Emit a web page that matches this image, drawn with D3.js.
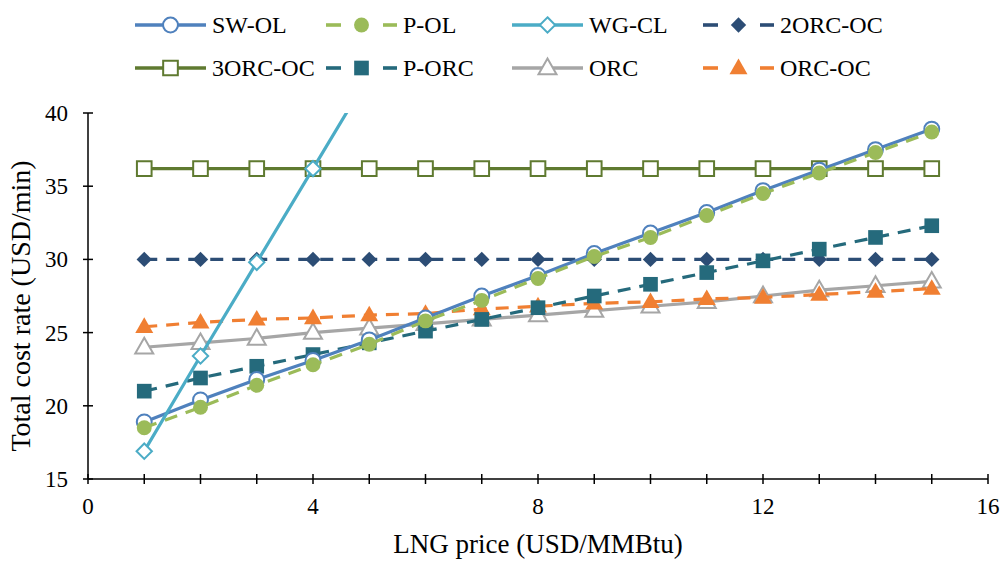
<!DOCTYPE html>
<html>
<head>
<meta charset="utf-8">
<script src="https://cdn.jsdelivr.net/npm/d3@7"></script>
<style>
  body { margin: 0; background: #fff; }
  svg text { font-family: "Liberation Serif", "Times New Roman", serif; fill: #000; }
</style>
</head>
<body>
<svg id="chart"></svg>
<script>
// chart values
const prices = [1, 2, 3, 4, 5, 6, 7, 8, 9, 10, 11, 12, 13, 14, 15];
const swOl = [18.9, 20.4, 21.8, 23.1, 24.5, 26.0, 27.5, 28.9, 30.4, 31.8, 33.2, 34.7, 36.1, 37.5, 38.9];
const pOl = [18.5, 19.9, 21.4, 22.8, 24.2, 25.8, 27.2, 28.7, 30.2, 31.5, 33.0, 34.5, 35.9, 37.3, 38.7];
const wgClPrices = [1, 2, 3, 4, 5];
const wgCl = [16.9, 23.4, 29.8, 36.2, 42.6];
const orc2Oc = [30.0, 30.0, 30.0, 30.0, 30.0, 30.0, 30.0, 30.0, 30.0, 30.0, 30.0, 30.0, 30.0, 30.0, 30.0];
const orc3Oc = [36.2, 36.2, 36.2, 36.2, 36.2, 36.2, 36.2, 36.2, 36.2, 36.2, 36.2, 36.2, 36.2, 36.2, 36.2];
const pOrc = [21.0, 21.9, 22.7, 23.5, 24.3, 25.1, 25.9, 26.7, 27.5, 28.3, 29.1, 29.9, 30.7, 31.5, 32.3];
const orc = [24.0, 24.3, 24.6, 25.0, 25.3, 25.6, 25.9, 26.2, 26.5, 26.8, 27.1, 27.5, 27.9, 28.2, 28.5];
const orcOc = [25.4, 25.7, 25.9, 26.0, 26.2, 26.3, 26.6, 26.8, 27.0, 27.1, 27.3, 27.4, 27.6, 27.8, 28.0];

const xTicks = [0, 4, 8, 12, 16];
const xMinorTicks = d3.range(0, 17, 1);
const yTicks = [15, 20, 25, 30, 35, 40];

// drawing setup
const width = 1003;
const height = 561;
const margin = { left: 88, right: 15, top: 113, bottom: 82 };

// legend order: row by row, four per row
const series = [
  { name: 'SW-OL', x: prices, y: swOl, color: '#4f81bd', dash: null, shape: 'circle', filled: false },
  { name: 'P-OL', x: prices, y: pOl, color: '#9bbb59', dash: '13,9', shape: 'circle', filled: true },
  { name: 'WG-CL', x: wgClPrices, y: wgCl, color: '#4bacc6', dash: null, shape: 'diamond', filled: false },
  { name: '2ORC-OC', x: prices, y: orc2Oc, color: '#2c4d75', dash: '13,9', shape: 'diamond', filled: true },
  { name: '3ORC-OC', x: prices, y: orc3Oc, color: '#5f7a30', dash: null, shape: 'square', filled: false },
  { name: 'P-ORC', x: prices, y: pOrc, color: '#256a7c', dash: '13,9', shape: 'square', filled: true },
  { name: 'ORC', x: prices, y: orc, color: '#a6a6a6', dash: null, shape: 'triangle', filled: false },
  { name: 'ORC-OC', x: prices, y: orcOc, color: '#f07f32', dash: '13,9', shape: 'triangle', filled: true },
];

// draw order in the plot (back to front)
const drawOrder = ['3ORC-OC', '2ORC-OC', 'ORC', 'ORC-OC', 'P-ORC', 'SW-OL', 'P-OL', 'WG-CL'];

const symbolTypes = {
  circle: d3.symbolCircle,
  square: d3.symbolSquare,
  diamond: d3.symbolDiamond2,
  triangle: d3.symbolTriangle,
};
const symbolSizes = { circle: 175, square: 215, diamond: 150, triangle: 140 };

const svg = d3.select('#chart')
  .attr('width', width)
  .attr('height', height);

const x = d3.scaleLinear().domain([0, 16]).range([margin.left, width - margin.right]);
const y = d3.scaleLinear().domain([15, 40]).range([height - margin.bottom, margin.top]);

svg.append('defs')
  .append('clipPath')
  .attr('id', 'plotClip')
  .append('rect')
  .attr('x', x(0))
  .attr('y', y(40))
  .attr('width', x(16) - x(0))
  .attr('height', y(15) - y(40));

function markerPath(d) {
  return d3.symbol().type(symbolTypes[d.shape]).size(symbolSizes[d.shape])();
}

function drawMarker(sel, s, cx, cy) {
  sel.append('path')
    .attr('d', markerPath(s))
    .attr('transform', `translate(${cx},${cy})` + (s.shape === 'triangle' ? ' translate(0,1)' : ''))
    .attr('fill', s.filled ? s.color : '#fff')
    .attr('stroke', s.color)
    .attr('stroke-width', s.filled ? 0 : 2);
}

// series
const plot = svg.append('g').attr('clip-path', 'url(#plotClip)');
const line = d3.line().x((d) => x(d[0])).y((d) => y(d[1]));

drawOrder.forEach((name) => {
  const s = series.find((d) => d.name === name);
  const pts = s.x.map((v, i) => [v, s.y[i]]);
  const g = plot.append('g');
  g.append('path')
    .datum(pts)
    .attr('d', line)
    .attr('fill', 'none')
    .attr('stroke', s.color)
    .attr('stroke-width', 3.2)
    .attr('stroke-dasharray', s.dash);
  pts.filter((p) => p[1] <= 40).forEach((p) => drawMarker(g, s, x(p[0]), y(p[1])));
});

// axes
const xAxis = svg.append('g').attr('transform', `translate(0,${y(15)})`);
xAxis.append('line')
  .attr('x1', x(0)).attr('x2', x(16))
  .attr('stroke', '#000').attr('stroke-width', 1.5);
xAxis.selectAll('.tick')
  .data(xMinorTicks)
  .join('line')
  .attr('x1', (d) => x(d)).attr('x2', (d) => x(d))
  .attr('y1', -5).attr('y2', 5)
  .attr('stroke', '#000').attr('stroke-width', 1.5);
xAxis.selectAll('text')
  .data(xTicks)
  .join('text')
  .attr('x', (d) => x(d))
  .attr('y', 35)
  .attr('text-anchor', 'middle')
  .style('font-size', '23px')
  .text((d) => d);

const yAxis = svg.append('g').attr('transform', `translate(${x(0)},0)`);
yAxis.append('line')
  .attr('y1', y(15)).attr('y2', y(40))
  .attr('stroke', '#000').attr('stroke-width', 1.5);
yAxis.selectAll('.tick')
  .data(yTicks)
  .join('line')
  .attr('x1', -5).attr('x2', 5)
  .attr('y1', (d) => y(d)).attr('y2', (d) => y(d))
  .attr('stroke', '#000').attr('stroke-width', 1.5);
yAxis.selectAll('text')
  .data(yTicks)
  .join('text')
  .attr('x', -20)
  .attr('y', (d) => y(d))
  .attr('dy', '0.35em')
  .attr('text-anchor', 'end')
  .style('font-size', '23px')
  .text((d) => d);

svg.append('text')
  .attr('x', 538)
  .attr('y', 553)
  .attr('text-anchor', 'middle')
  .style('font-size', '27px')
  .text('LNG price (USD/MMBtu)');

svg.append('text')
  .attr('transform', 'translate(30,306) rotate(-90)')
  .attr('text-anchor', 'middle')
  .style('font-size', '28px')
  .text('Total cost rate (USD/min)');

// legend
const legendCols = [135, 326, 512, 703];
const legendRows = [25, 68];
const legendLen = 71;
const legend = svg.append('g');
series.forEach((s, i) => {
  const lx = legendCols[i % 4];
  const ly = legendRows[Math.floor(i / 4)];
  const g = legend.append('g').attr('transform', `translate(${lx},${ly})`);
  const segs = s.dash ? [[0, 15], [legendLen - 14, legendLen]] : [[0, legendLen]];
  segs.forEach((seg) => {
    g.append('line')
      .attr('x1', seg[0]).attr('x2', seg[1])
      .attr('y1', 0).attr('y2', 0)
      .attr('stroke', s.color)
      .attr('stroke-width', 3.6);
  });
  drawMarker(g, s, legendLen / 2, 0);
  g.append('text')
    .attr('x', 77)
    .attr('y', 0)
    .attr('dy', '0.35em')
    .style('font-size', '24px')
    .text(s.name);
});
</script>
</body>
</html>
